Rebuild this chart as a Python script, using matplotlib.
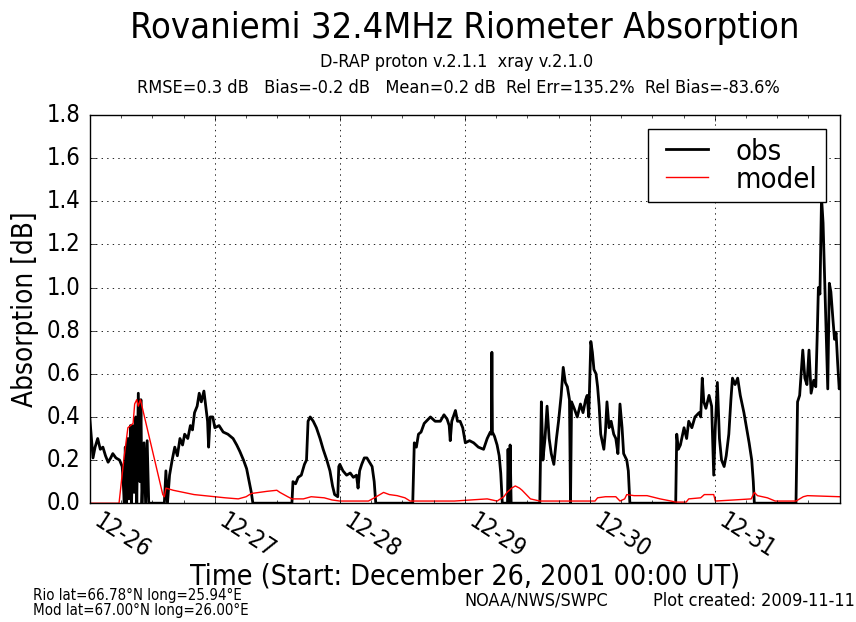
import datetime as dt
import matplotlib
matplotlib.use('Agg')
import matplotlib.pyplot as plt
import matplotlib.dates as mdates

plt.style.use('classic')
plt.rcParams['font.stretch'] = 'condensed'

start = dt.datetime(2001, 12, 26)
day_ticks = [start + dt.timedelta(days=d) for d in range(6)]

# hours since start, absorption in dB
obs_h = [0.0, 0.3, 0.6, 1.0, 1.5, 2.0, 2.5, 3.0, 3.5, 4.0, 4.4, 5.0, 5.7, 6.2, 6.4, 6.6, 6.8, 7.0, 7.3, 7.5,
         7.8, 8.0, 8.3, 8.5, 8.8, 9.0, 9.3, 9.6, 9.8, 10.0, 10.4, 10.7, 11.0, 11.3, 14.3, 14.6, 14.9, 15.3,
         15.8, 16.3, 16.8, 17.3, 17.8, 18.2, 18.8, 19.3, 19.7, 20.1, 20.6, 21.0, 21.4, 21.9, 22.3, 22.6,
         22.8, 23.1, 23.6, 24.0, 24.8, 25.6, 26.5, 27.5, 28.2, 28.8, 29.5, 30.1, 30.6, 31.0, 31.3, 38.8,
         39.0, 39.5, 40.0, 40.6, 41.2, 41.6, 41.9, 42.3, 42.9, 43.5, 44.2, 44.8, 45.5, 46.1, 46.6, 47.0,
         47.6, 47.8, 48.0, 48.6, 49.3, 50.0, 50.6, 51.2, 51.5, 51.8, 52.2, 52.7, 53.2, 53.7, 54.2, 54.6,
         54.9, 62.0, 62.3, 62.7, 63.1, 63.6, 64.2, 65.4, 66.3, 67.3, 68.0, 68.6, 69.0, 69.2, 69.5, 70.2,
         70.6, 71.1, 71.6, 72.1, 72.9, 73.7, 74.6, 75.6, 76.3, 76.9, 77.1, 77.2, 77.3, 77.7, 78.2, 78.6,
         78.9, 79.2, 80.2, 80.3, 80.5, 80.7, 80.9, 86.4, 86.7, 87.0, 87.4, 87.8, 88.2, 88.6, 89.1, 89.6,
         90.0, 90.5, 90.9, 91.3, 91.7, 92.1, 92.3, 92.5, 93.0, 93.6, 94.2, 94.7, 95.2, 95.5, 95.8, 96.2,
         96.5, 96.8, 97.2, 97.5, 97.8, 98.1, 98.7, 99.0, 99.3, 99.7, 100.1, 100.6, 101.0, 101.4, 101.8,
         102.2, 102.5, 103.1, 103.4, 103.7, 112.5, 112.7, 113.0, 113.4, 114.1, 114.6, 115.0, 115.6, 116.2,
         117.0, 117.3, 117.6, 117.9, 118.3, 118.9, 119.4, 119.8, 120.1, 120.5, 120.9, 121.3, 121.8, 122.2,
         122.7, 123.1, 123.4, 123.9, 124.4, 124.9, 125.6, 126.1, 126.6, 127.1, 127.4, 127.6, 135.6, 135.9,
         136.3, 136.9, 137.3, 137.7, 138.1, 138.5, 139.0, 139.4, 139.7, 139.9, 140.2, 140.5, 140.8, 141.2,
         141.5, 141.7, 142.0, 142.3, 142.7, 143.0, 143.3, 143.6, 143.9, 144.0]
obs_v = [0.39, 0.30, 0.21, 0.26, 0.30, 0.25, 0.26, 0.22, 0.19, 0.21, 0.23, 0.21, 0.20, 0.17, 0.10, 0.0, 0.26, 0.0, 0.30, 0.02,
         0.36, 0.0, 0.36, 0.05, 0.40, 0.0, 0.51, 0.10, 0.48, 0.0, 0.28, 0.0, 0.29, 0.0, 0.0, 0.15, 0.0, 0.13,
         0.20, 0.26, 0.22, 0.30, 0.27, 0.32, 0.30, 0.36, 0.34, 0.42, 0.45, 0.51, 0.47, 0.52, 0.44, 0.38,
         0.26, 0.40, 0.40, 0.35, 0.36, 0.33, 0.32, 0.30, 0.27, 0.24, 0.20, 0.16, 0.10, 0.05, 0.0, 0.0,
         0.10, 0.09, 0.12, 0.13, 0.18, 0.20, 0.38, 0.40, 0.38, 0.35, 0.30, 0.25, 0.20, 0.15, 0.08, 0.04,
         0.03, 0.17, 0.18, 0.15, 0.13, 0.14, 0.12, 0.13, 0.07, 0.15, 0.18, 0.21, 0.21, 0.19, 0.17, 0.10,
         0.0, 0.0, 0.28, 0.26, 0.32, 0.33, 0.37, 0.40, 0.38, 0.38, 0.41, 0.39, 0.36, 0.29, 0.38, 0.43,
         0.38, 0.38, 0.35, 0.28, 0.29, 0.28, 0.26, 0.25, 0.30, 0.33, 0.32, 0.70, 0.33, 0.31, 0.27, 0.22,
         0.14, 0.0, 0.0, 0.25, 0.0, 0.27, 0.0, 0.0, 0.47, 0.20, 0.30, 0.45, 0.30, 0.23, 0.18, 0.30,
         0.38, 0.50, 0.63, 0.56, 0.54, 0.48, 0.0, 0.47, 0.44, 0.40, 0.46, 0.42, 0.48, 0.50, 0.40, 0.75,
         0.70, 0.62, 0.60, 0.54, 0.45, 0.32, 0.25, 0.33, 0.47, 0.35, 0.38, 0.32, 0.30, 0.23, 0.46,
         0.35, 0.23, 0.20, 0.15, 0.0, 0.0, 0.32, 0.25, 0.27, 0.35, 0.30, 0.38, 0.35, 0.40,
         0.42, 0.40, 0.58, 0.47, 0.44, 0.50, 0.45, 0.13, 0.35, 0.56, 0.30, 0.20, 0.17, 0.22,
         0.32, 0.48, 0.58, 0.55, 0.58, 0.50, 0.42, 0.35, 0.28, 0.20, 0.10, 0.0, 0.0, 0.47,
         0.50, 0.71, 0.58, 0.55, 0.71, 0.51, 0.57, 0.54, 0.80, 1.00, 0.97, 1.42, 1.30, 0.96,
         0.70, 0.53, 1.02, 0.98, 0.85, 0.76, 0.79, 0.65, 0.53, 0.55]

model_h = [0, 5.6, 6.5, 7.3, 8.3, 8.6, 9.0, 9.3, 9.7, 10.0, 14.0, 14.3, 14.6, 16.0, 18.0, 20.0, 22.0, 24.0,
           26.0, 28.5, 30.0, 31.0, 32.5, 34.0, 35.9, 36.5, 38.0, 38.8, 41.0, 42.5, 45.0, 46.5, 48.0, 53.5,
           55.0, 56.4, 57.5, 59.0, 60.5, 61.5, 70.0, 76.3, 78.2, 79.5, 80.1, 81.0, 81.7, 82.5, 83.0, 84.6,
           86.4, 97.0, 97.5, 99.0, 101.0, 101.8, 102.7, 103.1, 104.5, 107.0, 109.5, 111.6, 112.5, 114.5,
           115.0, 117.3, 118.0, 119.8, 120.1, 123.7, 127.0, 127.6, 128.2, 130.1, 131.6, 135.1, 135.6,
           137.0, 137.8, 144.0]
model_v = [0, 0, 0.2, 0.35, 0.37, 0.46, 0.48, 0.45, 0.48, 0.45, 0.04, 0.03, 0.07, 0.06, 0.05, 0.04, 0.035, 0.03,
           0.025, 0.02, 0.03, 0.045, 0.05, 0.055, 0.06, 0.05, 0.03, 0.02, 0.02, 0.03, 0.025, 0.015, 0.01, 0.01,
           0.03, 0.05, 0.04, 0.035, 0.025, 0.01, 0.01, 0.02, 0.01, 0.03, 0.05, 0.07, 0.08, 0.07, 0.06, 0.02,
           0.01, 0.01, 0.025, 0.03, 0.03, 0.01, 0.02, 0.04, 0.035, 0.035, 0.02, 0.01, 0.005, 0.005,
           0.02, 0.025, 0.04, 0.04, 0.01, 0.015, 0.02, 0.05, 0.035, 0.025, 0.01, 0.01, 0.01,
           0.03, 0.035, 0.03]

obs_t = [start + dt.timedelta(hours=h) for h in obs_h]
model_t = [start + dt.timedelta(hours=h) for h in model_h]

fig = plt.figure(figsize=(8.56, 6.22), dpi=100, facecolor='white')
ax = fig.add_axes([0.105, 0.191, 0.876, 0.624])

ax.plot(obs_t, obs_v, color='black', lw=2.0, label='obs')
ax.plot(model_t, model_v, color='red', lw=1.0, label='model')

ax.set_xlim(start, start + dt.timedelta(days=6))
ax.set_ylim(0, 1.8)
ax.set_yticks([0.0, 0.2, 0.4, 0.6, 0.8, 1.0, 1.2, 1.4, 1.6, 1.8])
ax.set_xticks(day_ticks)
ax.xaxis.set_minor_locator(mdates.HourLocator(byhour=[6, 12, 18]))
ax.xaxis.set_major_formatter(mdates.DateFormatter('%m-%d'))
ax.grid(True, which='major', color='black', linestyle=':', lw=0.6)
ax.tick_params(axis='both', labelsize=17)
ax.tick_params(axis='y', pad=7)
for lab in ax.get_xticklabels():
    lab.set_rotation(-33)
    lab.set_ha('left')
    lab.set_va('top')

ax.set_ylabel('Absorption [dB]', fontsize=20, labelpad=5)
ax.set_xlabel('Time (Start: December 26, 2001 00:00 UT)', fontsize=20.5, labelpad=0)

# legend line is shortened by marker padding in this style, so handlelength is a bit longer
leg = ax.legend(loc='upper right', fontsize=21, handlelength=2.05, borderpad=0.3,
                labelspacing=0.0, handletextpad=0.65, borderaxespad=0.47)
leg.get_frame().set_linewidth(1.0)

fig.text(0.543, 0.955, 'Rovaniemi 32.4MHz Riometer Absorption', fontsize=26, ha='center', va='center')
fig.text(0.533, 0.900, 'D-RAP proton v.2.1.1  xray v.2.1.0', fontsize=13, ha='center', va='center')
fig.text(0.535, 0.858, 'RMSE=0.3 dB   Bias=-0.2 dB   Mean=0.2 dB  Rel Err=135.2%  Rel Bias=-83.6%',
         fontsize=13, ha='center', va='center')
fig.text(0.038, 0.043, 'Rio lat=66.78°N long=25.94°E', fontsize=10.8, va='center')
fig.text(0.038, 0.019, 'Mod lat=67.00°N long=26.00°E', fontsize=10.8, va='center')
fig.text(0.542, 0.035, 'NOAA/NWS/SWPC', fontsize=13, va='center')
fig.text(0.763, 0.034, 'Plot created: 2009-11-11', fontsize=13, va='center')

fig.savefig('out.png', dpi=100, facecolor='white')
